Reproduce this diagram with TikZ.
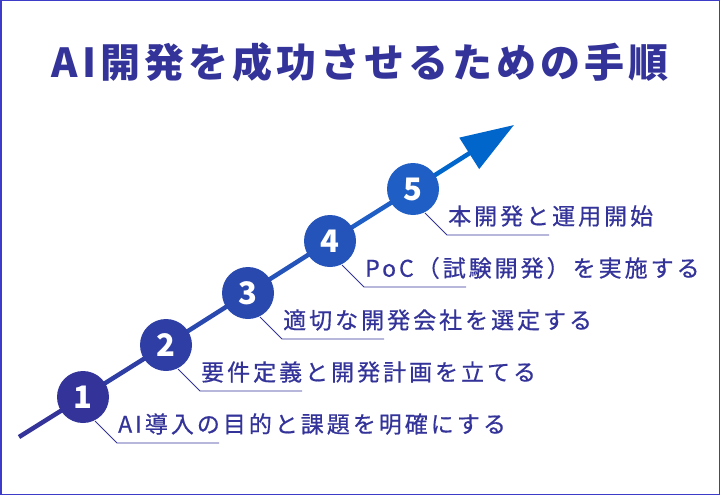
\documentclass[tikz,border=0pt]{standalone}
\usepackage{fontspec}
\setmainfont{Noto Sans CJK JP}
\usetikzlibrary{arrows.meta,calc}
\definecolor{navy}{RGB}{51,51,153}
\definecolor{framecol}{RGB}{60,60,200}
\definecolor{arrowblue}{RGB}{0,102,204}
\definecolor{c1}{RGB}{51,51,153}
\definecolor{c5}{RGB}{31,94,196}
\colorlet{c2}{c5!25!c1}
\colorlet{c3}{c5!50!c1}
\colorlet{c4}{c5!75!c1}
\begin{document}
\begin{tikzpicture}[x=1pt,y=1pt,yscale=-1,
    numcircle/.style={circle,fill=#1,minimum size=52pt,inner sep=0pt,text=white,
      font=\bfseries\fontsize{31}{31}\selectfont},
    steplabel/.style={anchor=west,inner sep=0pt,text=navy,
      font=\fontsize{23}{23}\selectfont\addfontfeature{LetterSpace=13,FakeBold=0.6}},
    leader/.style={draw=navy,line width=0.8pt},
    trend/.style={draw=#1,line width=4.5pt}]
    \useasboundingbox (0,0) rectangle (720,495);
    %frame
    \draw [framecol, line width=1.5pt] (0.75,0.75) rectangle (719.25,494.25);
    %title
    \node [text=navy, font=\bfseries\fontsize{40}{40}\selectfont\addfontfeature{LetterSpace=10}] (title) at (360,62) {AI開発を成功させるための手順};
    %
    %rising line
    \coordinate (start) at (19,437);
    \coordinate (tip) at (514,125);
    \foreach \i/\x/\y in {1/83/397, 2/166/345, 3/248/293, 4/330/241, 5/413/189} {
        \coordinate (p\i) at (\x,\y);
    }
    \draw [trend=c1] (start) -- (p1);
    \foreach \i/\j in {1/2, 2/3, 3/4, 4/5} {
        \draw [trend=c\j] (p\i) -- (p\j);
    }
    \draw [trend=arrowblue, -{Triangle[length=53pt,width=36pt]}] (p5) -- (tip);
    %
    %steps
    \foreach \i in {1, ..., 5} {
        \node [numcircle=c\i] (c\i) at (p\i) {\i};
    }
    \foreach \i/\txt in {1/AI導入の目的と課題を明確にする,
                         2/要件定義と開発計画を立てる,
                         3/適切な開発会社を選定する,
                         4/PoC（試験開発）を実施する,
                         5/本開発と運用開始} {
        \coordinate (k\i) at ($(p\i)+(34,46)$);
        \draw [leader] ($(p\i)+(12,24)$) -- (k\i) -- ++(102,0);
        \node [steplabel] (l\i) at ($(k\i)+(1,-19)$) {\txt};
    }
    %
\end{tikzpicture}
\end{document}
